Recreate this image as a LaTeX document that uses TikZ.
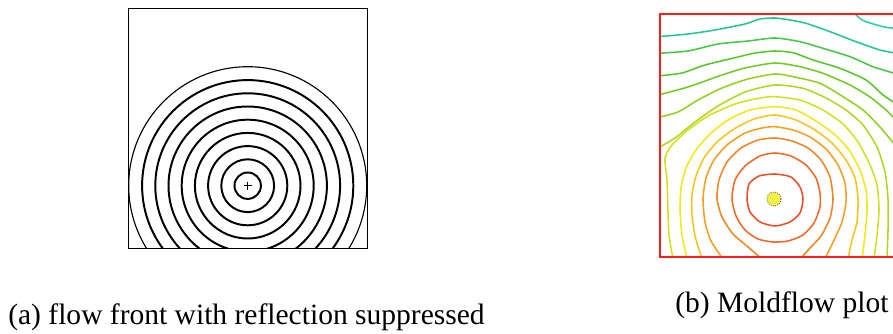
\documentclass[tikz,border=0pt]{standalone}
\usepackage{fontspec}
\setmainfont{Liberation Serif}
\newfontfamily\capfont{Liberation Serif}
\usepackage{xcolor}
\usetikzlibrary{positioning,calc}
\definecolor{moldred}{RGB}{255,28,28}
\definecolor{dotyellow}{RGB}{242,240,70}
\definecolor{isoA}{RGB}{238,78,38}
\definecolor{isoB}{RGB}{242,104,40}
\definecolor{isoC}{RGB}{245,132,34}
\definecolor{isoD}{RGB}{247,160,32}
\definecolor{isoE}{RGB}{249,196,30}
\definecolor{isoF}{RGB}{244,232,22}
\definecolor{isoG}{RGB}{208,226,28}
\definecolor{isoH}{RGB}{176,216,30}
\definecolor{isoI}{RGB}{144,210,32}
\definecolor{isoJ}{RGB}{112,204,36}
\definecolor{isoK}{RGB}{86,200,44}
\definecolor{isoL}{RGB}{70,200,70}
\definecolor{isoM}{RGB}{36,200,140}
\definecolor{isoN}{RGB}{40,210,170}
\tikzset{
  framebox/.style={draw=black, line width=0.7pt},
  ring/.style={draw=black, line width=1.4pt},
  thinring/.style={draw=black, line width=0.8pt},
  moldframe/.style={draw=moldred, line width=1.4pt},
  isoline/.style={line width=1.1pt, line join=round, line cap=round},
  capnode/.style={font=\capfont\fontsize{21}{25}\selectfont, inner sep=0pt}
}

\begin{document}
\begin{tikzpicture}[x=0.025cm, y=-0.025cm]
  \useasboundingbox (0,0) rectangle (893,334);
  \def\cxA{247.7} \def\cyA{185.7}

  % (a) flow front, reflection suppressed
  \begin{scope}
    \clip (128,8) rectangle (367,248);
    \foreach \k in {1,...,8}
      \draw[ring] (\cxA,\cyA) circle[radius=13.2*\k];
    \draw[thinring] (\cxA,\cyA) circle[radius=119];
  \end{scope}
  \draw[framebox] (128,8) rectangle (367,248);
  \draw[line width=0.7pt] (\cxA-4,\cyA) -- (\cxA+4,\cyA)
                          (\cxA,\cyA-4) -- (\cxA,\cyA+4);

  % (b) Moldflow contours
  \begin{scope}
    \clip (660,14) rectangle (893,257);
    \draw[isoline, isoN] plot[smooth, tension=0.4] coordinates {
      (853,12) (863,20.5) (883,26.7) (895,28.5)};
    \draw[isoline, isoM] plot[smooth, tension=0.4] coordinates {
      (658,36.7) (688,34) (715,30) (745,24) (760,19) (775,18) (790,20)
      (806,23.3) (830,31.7) (856,41.7) (880,50) (895,53)};
    \draw[isoline, isoL] plot[smooth, tension=0.4] coordinates {
      (658,53.3) (688,51) (718,44) (748,41) (775,38) (800,41.7) (823,48.3)
      (850,56.7) (873,66.7) (895,73.5)};
    \draw[isoline, isoK] plot[smooth, tension=0.4] coordinates {
      (658,76) (682,73) (705,65) (738,57) (755,53) (775,51) (793,52.7)
      (813,60) (840,68.3) (866,80) (883,95) (895,103)};
    \draw[isoline, isoJ] plot[smooth, tension=0.4] coordinates {
      (658,95) (688,87) (722,75) (745,68) (775,63) (800,66.7) (823,73.3)
      (850,85) (870,97) (886,110) (895,119)};
    \draw[isoline, isoI] plot[smooth, tension=0.4] coordinates {
      (658,117.5) (678,112) (698,100) (722,88) (748,79) (775,74) (793,76.7)
      (820,83.3) (843,96.7) (863,110) (880,127) (895,145)};
    \draw[isoline, isoH] plot[smooth, tension=0.4] coordinates {
      (658,148) (675,138) (695,122) (718,106) (745,92) (775,85) (803,88.3)
      (826,98) (846,110) (863,125) (877,147) (885,172) (888,199) (888,230)
      (887,259)};
    \draw[isoline, isoG] plot[smooth, tension=0.4] coordinates {
      (673,259) (669,235) (668,212) (667,180) (665,158) (672,145) (688,130)
      (708,116) (735,104) (760,98) (775,96.7) (800,100) (823,110) (843,124)
      (858,142) (870,165) (877,185) (879,210) (877,235) (874,259)};
    \draw[isoline, isoF] plot[smooth, tension=0.4] coordinates {
      (687,259) (682,235) (680,210) (681,188) (686,168) (696,150) (710,134)
      (728,120) (750,110) (775,106.7) (796,110) (816,121) (834,134) (849,150)
      (860,170) (866,190) (867,210) (865,235) (862,259)};
    \draw[isoline, isoE] plot[smooth, tension=0.4] coordinates {
      (702,259) (695,236) (692,215) (692,195) (696,176) (704,158) (717,142)
      (734,129) (754,119) (775,115) (796,120) (815,130) (832,143) (846,160)
      (855,178) (858,199) (857,222) (852,240) (848,259)};
    \draw[isoline, isoD] plot[smooth, tension=0.4] coordinates {
      (723,259) (711,241) (705,222) (703,199) (706,178) (714,160) (727,145)
      (745,133) (762,128) (775,126.7) (793,130) (810,137) (826,149) (838,165)
      (845,183) (846,202) (842,222) (834,240) (825,259)};
    \draw[isoline, isoC] plot[smooth, tension=0.4] coordinates {
      (762,259) (748,247) (733,234) (722,217) (717,199) (719,180) (727,162)
      (741,148) (758,140) (775,138) (792,141) (808,148) (821,160) (830,177)
      (833,199) (830,218) (821,236) (810,248) (800,259)};
    \draw[isoline, isoB] plot[smooth cycle, tension=0.4] coordinates {
      (732,199) (735,180) (745,166) (760,156) (775,153) (791,156) (806,165)
      (816,178) (820,193) (820,207) (814,223) (803,235) (788,241) (773,242)
      (758,239) (745,230) (736,216)};
    \draw[isoline, isoA] plot[smooth cycle, tension=0.4] coordinates {
      (747,199) (749,184) (759,176) (775,174) (791,177) (800,187) (803,199)
      (800,213) (790,222) (775,226) (760,222) (750,212)};
  \end{scope}
  \draw[moldframe] (895,14) -- (660,14) -- (660,257) -- (895,257);

  % injection point
  \fill[dotyellow] (774,199) circle[radius=7];
  \draw[black!65, densely dotted, line width=0.6pt] (774,199) circle[radius=7];

  % captions
  \node[capnode, anchor=base west] (capA) at (8,324)
    {(a) flow front with reflection suppressed};
  \node[capnode, anchor=base west] (capB) at (675,312)
    {(b) Moldflow plot};
\end{tikzpicture}
\end{document}
